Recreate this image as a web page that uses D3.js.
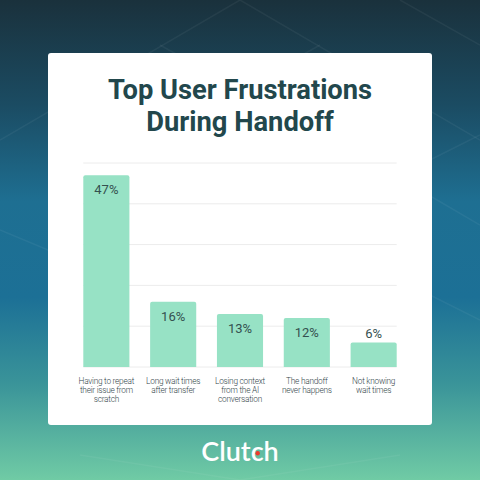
<!DOCTYPE html>
<html>
<head>
<meta charset="utf-8">
<script src="https://cdn.jsdelivr.net/npm/d3@7"></script>
<style>
  html, body { margin: 0; padding: 0; }
  svg { display: block; }
</style>
</head>
<body>
<script>
// data
const categories = [
  ['Having to repeat', 'their issue from', 'scratch'],
  ['Long wait times', 'after transfer'],
  ['Losing context', 'from the AI', 'conversation'],
  ['The handoff', 'never happens'],
  ['Not knowing', 'wait times']
]
const values = [47, 16, 13, 12, 6]
const gridTicks = [0, 10, 20, 30, 40, 50]
const titleLines = ['Top User Frustrations', 'During Handoff']

const width = 480
const height = 480
const card = { x: 48, y: 53, w: 384, h: 372 }
const plot = { left: 83.3, right: 396.7, top: 163, bottom: 367 }

const svg = d3.select('body')
  .append('svg')
  .attr('width', width)
  .attr('height', height)

// background gradient
const defs = svg.append('defs')
const grad = defs.append('linearGradient')
  .attr('id', 'bg')
  .attr('x1', 0).attr('y1', 0).attr('x2', 0).attr('y2', 1)
const stops = [
  [0, '#1a313c'], [0.22, '#1b4c63'], [0.42, '#1e6f92'],
  [0.62, '#1c7096'], [0.8, '#3a9499'], [1, '#70cba5']
]
grad.selectAll('stop')
  .data(stops)
  .enter()
  .append('stop')
  .attr('offset', d => d[0])
  .attr('stop-color', d => d[1])

svg.append('rect')
  .attr('width', width)
  .attr('height', height)
  .attr('fill', 'url(#bg)')

// faint geometric lines in the background
const bgLines = [
  [[0, 140], [240, 0]], [[240, 0], [480, 140]], [[160, 45], [320, 135]],
  [[320, 45], [160, 135]], [[400, 0], [480, 45]], [[0, 230], [60, 255]],
  [[420, 165], [480, 135]], [[420, 190], [480, 225]], [[420, 290], [480, 320]],
  [[80, 455], [240, 480]], [[240, 480], [400, 455]]
]
svg.append('g')
  .selectAll('line')
  .data(bgLines)
  .enter()
  .append('line')
  .attr('x1', d => d[0][0]).attr('y1', d => d[0][1])
  .attr('x2', d => d[1][0]).attr('y2', d => d[1][1])
  .attr('stroke', '#ffffff')
  .attr('stroke-opacity', 0.05)
  .attr('stroke-width', 1.5)

// white card
svg.append('rect')
  .attr('x', card.x)
  .attr('y', card.y)
  .attr('width', card.w)
  .attr('height', card.h)
  .attr('rx', 3)
  .attr('fill', '#ffffff')

// title
svg.append('text')
  .attr('text-anchor', 'middle')
  .attr('font-family', 'Roboto, sans-serif')
  .attr('font-weight', 700)
  .attr('font-size', 27.3)
  .attr('fill', '#22474c')
  .selectAll('tspan')
  .data(titleLines)
  .enter()
  .append('tspan')
  .attr('x', width / 2)
  .attr('y', (d, i) => 99 + i * 32)
  .text(d => d)

// scales
const xScale = d3.scaleBand()
  .domain(d3.range(values.length))
  .range([plot.left, plot.right])
  .paddingInner(0.31)
  .paddingOuter(0)

const yScale = d3.scaleLinear()
  .domain([0, 50])
  .range([plot.bottom, plot.top])

const main = svg.append('g')

// grid lines
main.append('g')
  .selectAll('line')
  .data(gridTicks)
  .enter()
  .append('line')
  .attr('x1', plot.left)
  .attr('x2', plot.right)
  .attr('y1', d => yScale(d))
  .attr('y2', d => yScale(d))
  .attr('stroke', '#ececec')
  .attr('stroke-width', 1)

// bars (rounded top corners)
const barPath = (x, y, w, h, r) =>
  `M${x},${y + h}V${y + r}Q${x},${y} ${x + r},${y}H${x + w - r}Q${x + w},${y} ${x + w},${y + r}V${y + h}Z`

main.append('g')
  .selectAll('path')
  .data(values)
  .enter()
  .append('path')
  .attr('d', (d, i) => barPath(xScale(i), yScale(d), xScale.bandwidth(), yScale(0) - yScale(d), 2))
  .attr('fill', '#97e2c5')

// value labels
main.append('g')
  .selectAll('text')
  .data(values)
  .enter()
  .append('text')
  .attr('x', (d, i) => xScale(i) + xScale.bandwidth() / 2)
  .attr('y', d => (yScale(0) - yScale(d) > 30 ? yScale(d) + 19 : yScale(d) - 5))
  .attr('text-anchor', 'middle')
  .attr('font-family', 'Roboto, sans-serif')
  .attr('font-size', 13)
  .attr('fill', '#34504f')
  .text(d => d + '%')

// category labels
const catG = main.append('g')
  .selectAll('text')
  .data(categories)
  .enter()
  .append('text')
  .attr('text-anchor', 'middle')
  .attr('font-family', 'Roboto, sans-serif')
  .attr('font-weight', 300)
  .attr('font-size', 8.3)
  .attr('letter-spacing', -0.25)
  .attr('fill', '#33464a')

catG.selectAll('tspan')
  .data((d, i) => d.map(t => ({ t, i })))
  .enter()
  .append('tspan')
  .attr('x', d => xScale(d.i) + xScale.bandwidth() / 2)
  .attr('y', (d, j) => 384 + j * 8.8)
  .text(d => d.t)

// Clutch logo
svg.append('text')
  .attr('x', width / 2)
  .attr('y', 461)
  .attr('text-anchor', 'middle')
  .attr('font-family', 'Lato, sans-serif')
  .attr('font-weight', 600)
  .attr('font-size', 27)
  .attr('fill', '#ffffff')
  .text('Clutch')

svg.append('circle')
  .attr('cx', 257.7)
  .attr('cy', 453.3)
  .attr('r', 2.2)
  .attr('fill', '#ef3b2d')
</script>
</body>
</html>
